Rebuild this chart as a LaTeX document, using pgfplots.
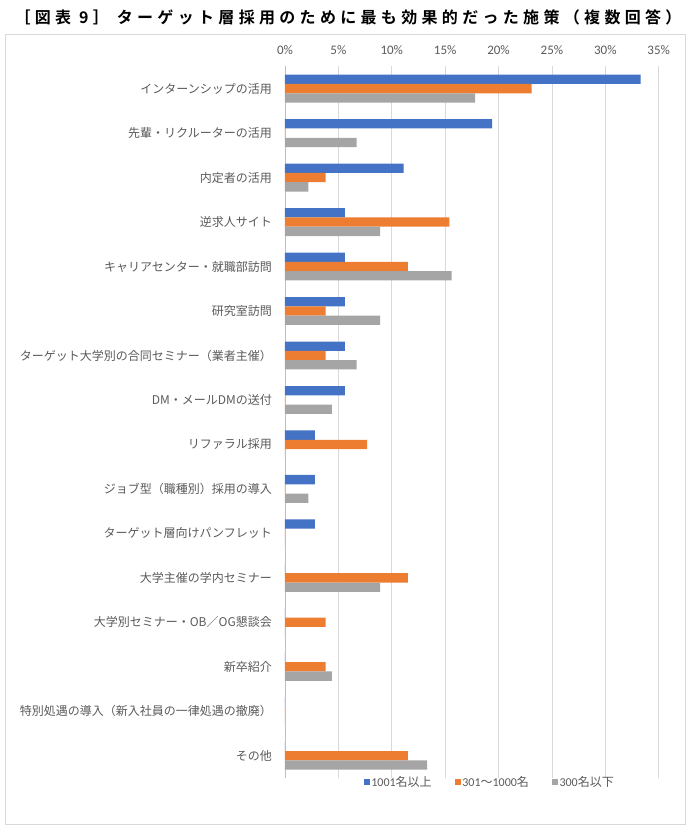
\documentclass[border=0pt]{standalone}
\usepackage{pgfplots}
\pgfplotsset{compat=1.18}
\usepackage{fontspec}
\setmainfont{Carlito}
\newfontfamily\cjk{Noto Sans CJK JP}
\newfontfamily\titlefont[LetterSpace=27, BoldFont={Noto Sans CJK JP Bold}]{Noto Sans CJK JP}
\definecolor{cblue}{HTML}{4472C4}
\definecolor{corange}{HTML}{ED7D31}
\definecolor{cgray}{HTML}{A5A5A5}
\definecolor{ctext}{HTML}{595959}
\definecolor{cgrid}{HTML}{D9D9D9}
\definecolor{caxis}{HTML}{BFBFBF}
\begin{document}
\begin{tikzpicture}[x=1pt,y=1pt]
\path[use as bounding box] (0,0) rectangle (691,830);
\draw[cgrid, line width=1pt] (5,5) rectangle (685,795);
\node[font=\titlefont\bfseries\fontsize{16}{16}\selectfont, anchor=center, inner sep=0pt] at (348,813) {［図表 9］ ターゲット層採用のために最も効果的だった施策（複数回答）};
\begin{axis}[
  at={(285pt,52pt)}, anchor=south west,
  scale only axis, width=373.7pt, height=711.6pt,
  xmin=0, xmax=35, ymin=-0.5, ymax=15.5,
  xtick={0,5,...,35},
  xticklabels={0\%,5\%,10\%,15\%,20\%,25\%,30\%,35\%},
  xticklabel pos=upper,
  xticklabel style={font=\fontsize{13}{13}\selectfont, text=ctext, anchor=base, inner sep=0pt, yshift=11.4pt},
  ytick={0,...,15},
  yticklabels={その他, 特別処遇の導入（新入社員の一律処遇の撤廃）, 新卒紹介, 大学別セミナー・OB／OG懇談会, 大学主催の学内セミナー, ターゲット層向けパンフレット, ジョブ型（職種別）採用の導入, リファラル採用, DM・メールDMの送付, ターゲット大学別の合同セミナー（業者主催）, 研究室訪問, キャリアセンター・就職部訪問, 逆求人サイト, 内定者の活用, 先輩・リクルーターの活用, インターンシップの活用},
  yticklabel style={font=\cjk\fontsize{12}{12}\selectfont, text=ctext, anchor=east, inner sep=0pt, xshift=-13pt},
  major tick length=0pt,
  xmajorgrids, grid style={cgrid, line width=0.8pt},
  separate axis lines,
  x axis line style={draw=none},
  y axis line style={draw=caxis, line width=0.8pt},
  axis y line*=left,
  bar width=9.3pt,
  legend columns=3,
  legend image code/.code={\fill[#1] (0pt,-2.8pt) rectangle (5.6pt,2.8pt);},
  legend style={draw=none, fill=none, at={(0.548,-0.0056)}, anchor=center,
    font=\fontsize{12}{12}\selectfont, text=ctext,
    /tikz/every even column/.append style={column sep=22pt},
    nodes={inner sep=1.5pt}},
]
\addplot[xbar, bar shift=9.3pt, fill=cblue, draw=none] coordinates {
(33.3,15) (19.4,14) (11.1,13) (5.6,12) (5.6,11) (5.6,10) (5.6,9) (5.6,8)
(2.8,7) (2.8,6) (2.8,5) (0,4) (0,3) (0,2) (0,1) (0,0)};
\addplot[xbar, bar shift=0pt, fill=corange, draw=none] coordinates {
(23.1,15) (0,14) (3.8,13) (15.4,12) (11.5,11) (3.8,10) (3.8,9) (0,8)
(7.7,7) (0,6) (0,5) (11.5,4) (3.8,3) (3.8,2) (0,1) (11.5,0)};
\addplot[xbar, bar shift=-9.3pt, fill=cgray, draw=none] coordinates {
(17.8,15) (6.7,14) (2.2,13) (8.9,12) (15.6,11) (8.9,10) (6.7,9) (4.4,8)
(0,7) (2.2,6) (0,5) (8.9,4) (0,3) (4.4,2) (0,1) (13.3,0)};
\legend{1001{\cjk 名以上}, 301{\cjk ～}1000{\cjk 名}, 300{\cjk 名以下}}
\end{axis}
\end{tikzpicture}
\end{document}
